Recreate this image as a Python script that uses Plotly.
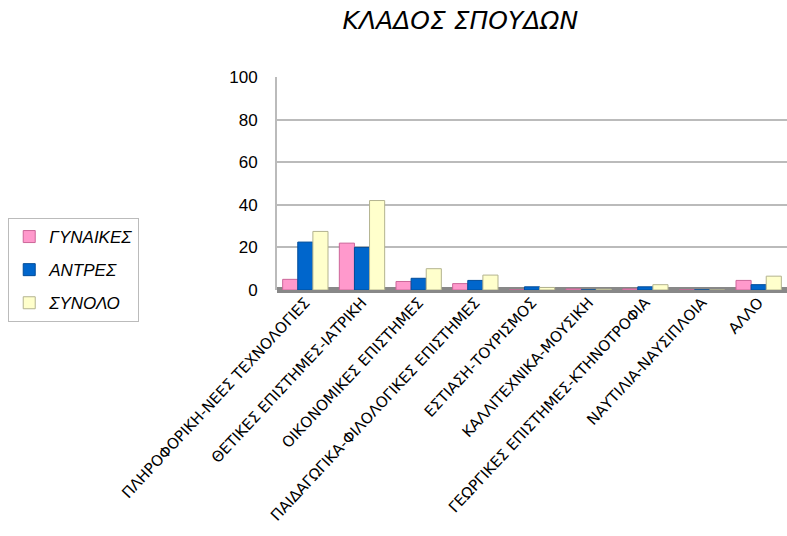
import plotly.graph_objects as go

categories = [
    "ΠΛΗΡΟΦΟΡΙΚΗ-ΝΕΕΣ ΤΕΧΝΟΛΟΓΙΕΣ",
    "ΘΕΤΙΚΕΣ ΕΠΙΣΤΗΜΕΣ-ΙΑΤΡΙΚΗ",
    "ΟΙΚΟΝΟΜΙΚΕΣ ΕΠΙΣΤΗΜΕΣ",
    "ΠΑΙΔΑΓΩΓΙΚΑ-ΦΙΛΟΛΟΓΙΚΕΣ ΕΠΙΣΤΗΜΕΣ",
    "ΕΣΤΙΑΣΗ-ΤΟΥΡΙΣΜΟΣ",
    "ΚΑΛΛΙΤΕΧΝΙΚΑ-ΜΟΥΣΙΚΗ",
    "ΓΕΩΡΓΙΚΕΣ ΕΠΙΣΤΗΜΕΣ-ΚΤΗΝΟΤΡΟΦΙΑ",
    "ΝΑΥΤΙΛΙΑ-ΝΑΥΣΙΠΛΟΙΑ",
    "ΑΛΛΟ",
]
gynaikes = [5, 22, 4, 3, 0, 0.5, 0.5, 0, 4.5]
antres = [22.5, 20, 5.5, 4.5, 1.5, 0, 1.5, 0, 2.5]
synolo = [27.5, 42, 10, 7, 1.2, 0.4, 2.5, 0, 6.5]

series = [
    ("ΓΥΝΑΙΚΕΣ", gynaikes, "#FF99CC", "#CC6699"),
    ("ΑΝΤΡΕΣ", antres, "#0066CC", "#004C99"),
    ("ΣΥΝΟΛΟ", synolo, "#FFFFCC", "#B3B38F"),
]

fig = go.Figure()
for i, (name, vals, col, edge) in enumerate(series):
    fig.add_trace(go.Bar(
        x=categories, y=vals, name=name, legendgroup=f"g{i}",
        marker=dict(color=col, line=dict(color=edge, width=1)),
    ))

fig.update_layout(
    width=787, height=536,
    paper_bgcolor="white", plot_bgcolor="white",
    margin=dict(l=277, r=0, t=77, b=246),
    barmode="group", bargap=0.2, bargroupgap=0.0,
    font=dict(family="Liberation Sans, DejaVu Sans, sans-serif", color="black"),
    title=dict(text="ΚΛΑΔΟΣ ΣΠΟΥΔΩΝ", x=0.585, xanchor="center", y=0.963, yanchor="middle",
               font=dict(family="DejaVu Sans, sans-serif", size=25, style="italic", color="black")),
    legend=dict(x=-0.527, xanchor="left", y=0.338, yanchor="top",
                bordercolor="#BBBBBB", borderwidth=1, bgcolor="white",
                font=dict(size=17, style="italic"), traceorder="grouped",
                tracegroupgap=8, itemwidth=30),
    showlegend=True,
)
fig.update_yaxes(range=[0, 100], dtick=20, showgrid=True, gridcolor="#BBBBBB", gridwidth=2,
                 zeroline=True, zerolinecolor="#888888", zerolinewidth=6,
                 showline=True, linecolor="#BBBBBB", linewidth=2,
                 tickfont=dict(size=17), ticks="", ticklabelstandoff=14)
fig.update_xaxes(tickangle=-47, tickfont=dict(family="DejaVu Sans, sans-serif", size=15),
                 showline=False, ticks="", range=[-0.5, 8.5])

fig.write_html("out.html")
